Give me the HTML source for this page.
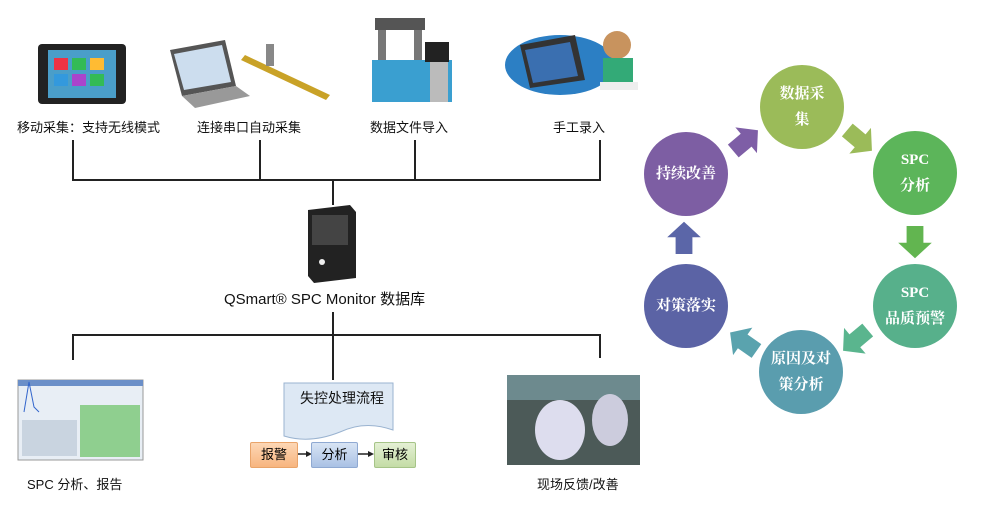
<!DOCTYPE html>
<html><head><meta charset="utf-8"><style>
body{margin:0;width:1000px;height:513px;background:#fff;overflow:hidden;font-family:"Liberation Sans","Noto Sans CJK SC",sans-serif;position:relative}
.t{position:absolute;font-size:13px;color:#111;white-space:nowrap}
.c{position:absolute;width:84px;height:84px;border-radius:50%;color:#fff;font-family:"Liberation Serif","Noto Serif CJK SC",serif;font-size:15px;font-weight:bold;display:flex;align-items:center;justify-content:center;text-align:center;line-height:26px}
.b{position:absolute;font-size:13px;text-align:center;line-height:24px;height:24px;border-radius:2px}
</style></head><body>
<svg width="1000" height="513" style="position:absolute;left:0;top:0">
<g stroke="#222" stroke-width="2" fill="none">
<path d="M73 140V180M260 140V180M415 140V180M600 140V180M72 180H601M333 180V205"/>
<path d="M333 312V335M72 335H601M73 335V360M333 335V380M600 335V358"/>
</g>
<rect x="38" y="44" width="88" height="60" rx="4" fill="#222"/><rect x="48" y="50" width="68" height="48" fill="#4a9ec9"/>
<rect x="54" y="58" width="14" height="12" fill="#e34"/><rect x="72" y="58" width="14" height="12" fill="#3b5"/><rect x="90" y="58" width="14" height="12" fill="#fb3"/><rect x="54" y="74" width="14" height="12" fill="#39d"/><rect x="72" y="74" width="14" height="12" fill="#a4c"/><rect x="90" y="74" width="14" height="12" fill="#3b5"/>
<polygon points="170,50 225,40 236,86 182,96" fill="#555"/><polygon points="174,54 222,45 231,82 184,90" fill="#cde"/><polygon points="182,96 236,86 250,96 195,108" fill="#999"/>
<polygon points="245,55 330,95 326,100 241,60" fill="#c9a227"/><rect x="266" y="44" width="8" height="22" fill="#888"/>
<rect x="375" y="18" width="50" height="12" fill="#555"/><rect x="378" y="30" width="8" height="50" fill="#777"/><rect x="414" y="30" width="8" height="50" fill="#777"/><rect x="372" y="60" width="80" height="42" fill="#3a9fd0"/><rect x="425" y="42" width="24" height="20" fill="#222"/><rect x="430" y="62" width="18" height="40" fill="#bbb"/>
<ellipse cx="560" cy="65" rx="55" ry="30" fill="#2c7fc4"/><polygon points="520,45 575,35 585,80 530,88" fill="#333"/><polygon points="525,50 570,42 578,76 533,83" fill="#3a6fb0"/>
<circle cx="617" cy="45" r="14" fill="#c8935e"/><rect x="603" y="58" width="30" height="30" fill="#3a7"/><rect x="600" y="82" width="38" height="8" fill="#eee"/>
<polygon points="308,210 350,205 356,212 356,278 314,283 308,276" fill="#222"/><rect x="312" y="215" width="36" height="30" fill="#444"/><circle cx="322" cy="262" r="3" fill="#eee"/>
<rect x="18" y="380" width="125" height="80" fill="#e8eef5" stroke="#999"/><rect x="18" y="380" width="125" height="6" fill="#6b8fc8"/>
<rect x="80" y="405" width="60" height="52" fill="#8fcf8f"/><rect x="22" y="420" width="55" height="36" fill="#c9d4e0"/><path d="M24 412 l5-30 l5 25 l5 5" stroke="#36c" fill="none"/>
<rect x="507" y="375" width="133" height="90" fill="#4c5a58"/><rect x="507" y="375" width="133" height="25" fill="#6d8a8e"/><ellipse cx="560" cy="430" rx="25" ry="30" fill="#dde"/><ellipse cx="610" cy="420" rx="18" ry="26" fill="#ccd"/>
<path d="M284 383H393V430Q365 420 340 432Q310 444 284 436Z" fill="#dde8f4" stroke="#9ab3d0"/>
<g stroke="#222" stroke-width="1.5"><path d="M296 454H306M356 454H368"/></g>
<polygon points="306,451 312,454 306,457" fill="#222"/><polygon points="368,451 374,454 368,457" fill="#222"/>
<g transform="translate(858,139) rotate(40) scale(1.4)"><polygon points="-10,-6 2,-6 2,-12 13,0 2,12 2,6 -10,6" fill="#9bbb59"/></g>
<g transform="translate(915,240) rotate(90) scale(1.4)"><polygon points="-10,-6 2,-6 2,-12 13,0 2,12 2,6 -10,6" fill="#62b550"/></g>
<g transform="translate(857,339) rotate(140) scale(1.4)"><polygon points="-10,-6 2,-6 2,-12 13,0 2,12 2,6 -10,6" fill="#5ab58e"/></g>
<g transform="translate(745,343) rotate(215) scale(1.4)"><polygon points="-10,-6 2,-6 2,-12 13,0 2,12 2,6 -10,6" fill="#5aa3ae"/></g>
<g transform="translate(684,240) rotate(-90) scale(1.4)"><polygon points="-10,-6 2,-6 2,-12 13,0 2,12 2,6 -10,6" fill="#5b66a8"/></g>
<g transform="translate(744,142) rotate(-40) scale(1.4)"><polygon points="-10,-6 2,-6 2,-12 13,0 2,12 2,6 -10,6" fill="#7e5ea6"/></g>
</svg>
<div class="t" style="left:17px;top:117px">移动采集：支持无线模式</div>
<div class="t" style="left:197px;top:117px">连接串口自动采集</div>
<div class="t" style="left:370px;top:117px">数据文件导入</div>
<div class="t" style="left:553px;top:117px">手工录入</div>
<div class="t" style="left:224px;top:288px;font-size:15px">QSmart® SPC Monitor 数据库</div>
<div class="t" style="left:27px;top:474px">SPC 分析、报告</div>
<div class="t" style="left:537px;top:474px">现场反馈/改善</div>
<div class="t" style="left:300px;top:388px;font-size:14px">失控处理流程</div>
<div class="b" style="left:250px;top:442px;width:46px;background:linear-gradient(#fdd7b5,#f7b57f);border:1px solid #e9a46a">报警</div>
<div class="b" style="left:311px;top:442px;width:45px;background:linear-gradient(#d8e4f4,#a9c1e4);border:1px solid #8fa9d2">分析</div>
<div class="b" style="left:374px;top:442px;width:40px;background:linear-gradient(#e4f0d4,#c4dca6);border:1px solid #a6c488">审核</div>
<div class="c" style="left:760px;top:65px;background:#9bbb59">数据采<br>集</div>
<div class="c" style="left:873px;top:131px;background:#5cb55a">SPC<br>分析</div>
<div class="c" style="left:873px;top:264px;background:#57b08b">SPC<br>品质预警</div>
<div class="c" style="left:759px;top:330px;background:#5a9dae">原因及对<br>策分析</div>
<div class="c" style="left:644px;top:264px;background:#5b63a5">对策落实</div>
<div class="c" style="left:644px;top:132px;background:#7d5ea3">持续改善</div>
</body></html>
